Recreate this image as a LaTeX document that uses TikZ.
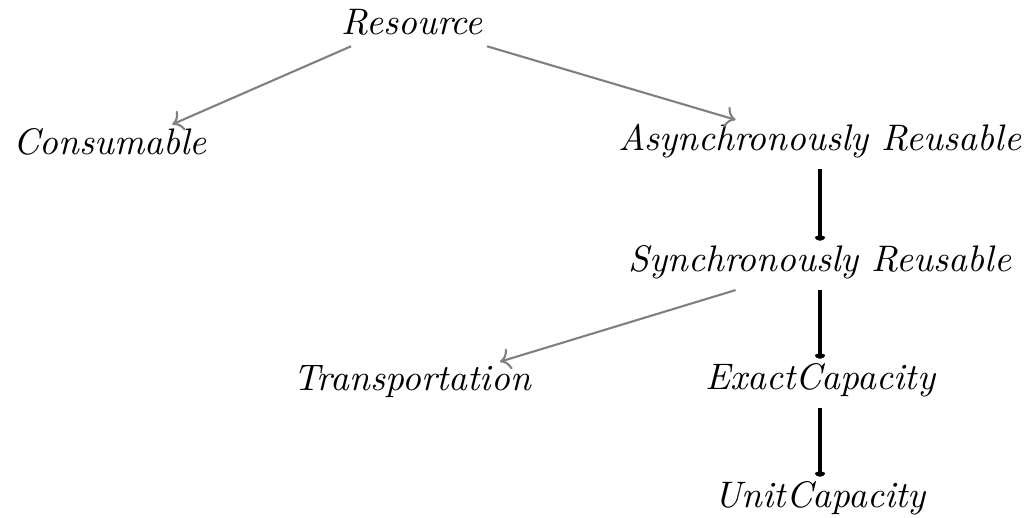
\documentclass[tikz,border=0pt]{standalone}
\usepackage{tikz}
\usetikzlibrary{positioning,arrows,arrows.meta,calc}

\begin{document}
\begin{tikzpicture}
  [
      x=0.01cm, y=-0.01cm,
      concept/.style={font=\fontsize{10.5}{12}\itshape, inner sep=1pt},
      isa/.style={->, draw=gray, semithick},
      sub/.style={-{To[length=1.5pt,width=3pt]}, line width=1.1pt}
    ]
    \useasboundingbox (0,0) rectangle (1024,517);
    \node (res) [concept] at (412,22) {Resource};
    \node (con) [concept] at (110,142) {Consumable};
    \node (asy) [concept] at (820,141) {Asynchronously Reusable};
    \node (syn) [concept] at (820,262) {Synchronously Reusable};
    \node (tra) [concept] at (412,382) {Transportation};
    \node (exa) [concept] at (820,380) {ExactCapacity};
    \node (uni) [concept] at (820,498) {UnitCapacity};
    \draw [isa] ([xshift=4pt,yshift=-2pt]res.south west) -- ([xshift=-11pt]con.north east);
    \draw [isa] ([yshift=-2pt]res.south east) -- ([xshift=-24pt]asy.north);
    \draw [isa] ([xshift=-24pt,yshift=-2pt]syn.south) -- ([xshift=-10pt]tra.north east);
    \foreach \i/\j in {asy/syn,syn/exa,exa/uni}
      \draw [sub] ([yshift=-2pt]\i.south) -- (\j.north);
  \end{tikzpicture}
\end{document}
